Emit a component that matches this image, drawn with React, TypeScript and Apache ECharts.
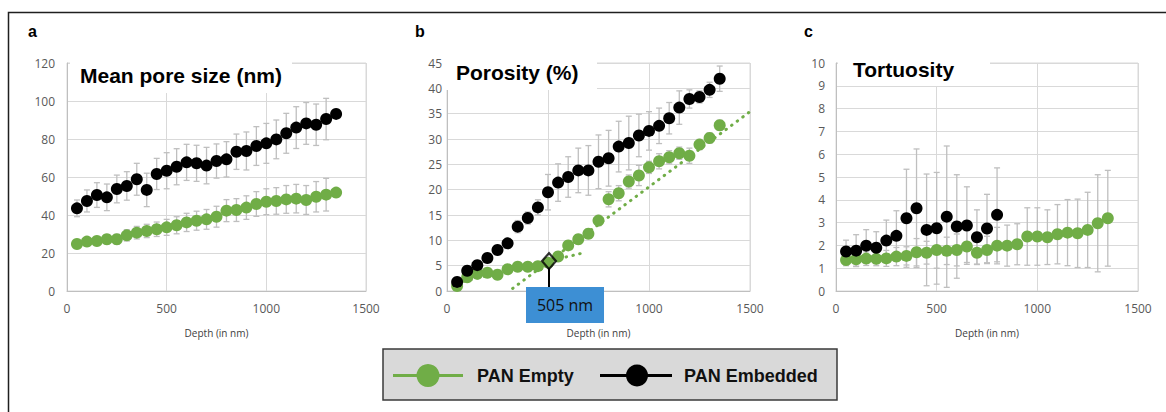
import React, { useEffect, useRef } from "react";
import * as echarts from "echarts";

const DEPTH = [50, 100, 150, 200, 250, 300, 350, 400, 450, 500, 550, 600, 650, 700, 750, 800, 850, 900, 950, 1000, 1050, 1100, 1150, 1200, 1250, 1300, 1350];

const A_EMPTY = [24.7, 26.0, 26.3, 27.2, 27.2, 29.3, 30.7, 31.6, 32.5, 33.5, 34.6, 36.1, 37.0, 37.7, 39.1, 42.3, 42.6, 43.9, 45.8, 47.0, 47.4, 48.2, 48.6, 47.9, 49.6, 50.7, 51.8];
const A_EMPTY_ERR = [1.8, 2, 2.2, 2.4, 2.6, 3, 3.3, 3.5, 3.8, 4.2, 4.5, 4.8, 5, 5.2, 5.5, 5.8, 6, 6.2, 6.5, 6.8, 7, 7.3, 7.5, 7.6, 8, 8.6, 0];
const A_EMB = [43.5, 47.4, 50.5, 49.3, 53.7, 55.3, 58.8, 53.2, 61.6, 63.3, 65.4, 67.7, 67.2, 66.0, 68.4, 69.3, 73.3, 73.7, 76.3, 77.7, 79.8, 83.0, 86.0, 88.2, 87.5, 90.5, 93.2];
const A_EMB_ERR = [4.4, 5.8, 6.5, 7, 7.3, 7.5, 8.4, 8.8, 8.2, 9.5, 9.5, 9.5, 9.5, 9.6, 9, 9.3, 9.3, 10, 10.2, 10.5, 10.2, 10.5, 11, 11, 10.9, 10.9, 0];

const B_EMPTY = [1.0, 2.7, 3.4, 3.6, 3.2, 4.3, 4.8, 4.8, 4.9, 5.6, 6.8, 9.0, 10.2, 11.3, 13.9, 18.1, 19.3, 21.6, 22.8, 24.4, 25.6, 26.4, 27.2, 26.7, 28.9, 30.2, 32.7];
const B_EMPTY_ERR = [0.3, 0.4, 0.5, 0.5, 0.5, 0.6, 0.6, 0.6, 0.7, 0.7, 0.8, 0.8, 0.9, 0.9, 1.0, 1.5, 1.5, 1.3, 2.0, 1.2, 1.5, 1.3, 1.2, 1.5, 1.0, 1.0, 1.0];
const B_EMB = [1.8, 4.0, 5.1, 6.5, 8.1, 9.4, 12.7, 14.4, 16.5, 19.5, 21.4, 22.5, 23.8, 23.8, 25.5, 26.2, 28.5, 29.2, 30.7, 31.6, 32.6, 34.1, 36.2, 37.9, 38.3, 39.7, 41.9];
const B_EMB_ERR = [0.5, 1.0, 0.8, 0.8, 0.8, 1.0, 1.2, 1.2, 1.5, 3.5, 3.7, 4.0, 4.4, 4.9, 5.3, 5.5, 5.0, 5.3, 4.2, 3.8, 3.5, 3.1, 3.3, 1.8, 1.2, 1.5, 2.5];

const C_EMPTY = [1.36, 1.39, 1.42, 1.41, 1.43, 1.51, 1.54, 1.70, 1.68, 1.80, 1.76, 1.80, 1.95, 1.68, 1.80, 1.99, 1.99, 2.05, 2.39, 2.39, 2.36, 2.49, 2.56, 2.53, 2.68, 2.97, 3.19];
const C_EMPTY_ERR = [0.25, 0.3, 0.3, 0.3, 0.35, 0.4, 0.4, 0.6, 0.5, 0.8, 0.6, 0.7, 0.7, 0.5, 0.6, 0.8, 0.9, 0.9, 1.26, 1.26, 1.2, 1.3, 1.45, 1.5, 1.65, 2.13, 2.1];
const C_EMB_DEPTH = [50, 100, 150, 200, 250, 300, 350, 400, 450, 500, 550, 600, 650, 700, 750, 800];
const C_EMB = [1.73, 1.77, 1.99, 1.90, 2.21, 2.42, 3.19, 3.63, 2.68, 2.75, 3.26, 2.83, 2.87, 2.36, 2.74, 3.34];
const C_EMB_ERR = [0.5, 0.7, 0.7, 0.7, 0.9, 1.1, 2.15, 2.6, 2.45, 2.45, 3.1, 2.27, 1.7, 1.2, 1.5, 2.06];

const TREND_EARLY = [[50, 1.6], [673, 7.5]];
const TREND_LATE = [[325, 0.5], [1500, 35.4]];
const ANNOT_X = 505;
const ANNOT_Y = 5.9;
const ANNOT_LABEL = "505 nm";

const PANEL_LETTERS = ["a", "b", "c"];
const PANEL_TITLES = ["Mean pore size (nm)", "Porosity (%)", "Tortuosity"];
const Y_MAX = [120, 45, 10];
const Y_STEP = [20, 5, 1];
const X_TITLE = "Depth (in nm)";
const LEGEND_NAMES = ["PAN Empty", "PAN Embedded"];
// tick hidden behind the annotation box in panel b
const HIDDEN_X_TICK_B = 500;

const GREEN = "#70ad47";
const BLACK = "#000000";
const ERR_COLOR = "#bfbfbf";
const GRID_COLOR = "#d9d9d9";
const LABEL_FONT = "Open Sans";
const BOLD_FONT = "Liberation Sans";

const pts = (xs: number[], ys: number[]) => xs.map((x, i) => [x, ys[i]]);
const errs = (xs: number[], ys: number[], es: number[]) => xs.map((x, i) => [x, ys[i] - es[i], ys[i] + es[i]]);

const renderErr = (_params: any, api: any) => {
  const x = api.value(0);
  const lo = api.value(1);
  const hi = api.value(2);
  const a = api.coord([x, hi]);
  const b = api.coord([x, lo]);
  const h = 3;
  const style = { stroke: ERR_COLOR, lineWidth: 1.3 };
  return {
    type: "group",
    children: [
      { type: "line", shape: { x1: a[0], y1: a[1], x2: b[0], y2: b[1] }, style },
      { type: "line", shape: { x1: a[0] - h, y1: a[1], x2: a[0] + h, y2: a[1] }, style },
      { type: "line", shape: { x1: b[0] - h, y1: b[1], x2: b[0] + h, y2: b[1] }, style },
    ],
  };
};

export default function App() {
  const ref = useRef<HTMLDivElement>(null);
  useEffect(() => {
    document.body.style.margin = "0";
    if (!ref.current) return;
    const chart = echarts.init(ref.current, undefined, { renderer: "svg" });

    const grids = [
      { left: 67, top: 63, width: 299, height: 228 },
      { left: 447, top: 63, width: 303, height: 228 },
      { left: 836, top: 63, width: 302, height: 228 },
    ];
    const yMargins = [12, 5, 11];

    const xAxis = grids.map((_, i) => ({
      type: "value",
      gridIndex: i,
      min: 0,
      max: 1500,
      interval: 500,
      name: X_TITLE,
      nameLocation: "middle",
      nameGap: 37,
      nameTextStyle: { fontSize: 10, color: "#404040", fontFamily: LABEL_FONT },
      axisLabel: {
        fontSize: 12,
        color: "#595959",
        margin: 11,
        fontFamily: LABEL_FONT,
        formatter: (v: number) => (i === 1 && v === HIDDEN_X_TICK_B ? "" : String(v)),
      },
      axisLine: { show: true, lineStyle: { color: ERR_COLOR, width: 1 } },
      axisTick: { show: false },
      splitLine: { show: true, lineStyle: { color: GRID_COLOR, width: 1 } },
    }));
    const yAxis = grids.map((_, i) => ({
      type: "value",
      gridIndex: i,
      min: 0,
      max: Y_MAX[i],
      interval: Y_STEP[i],
      axisLabel: { fontSize: 12, color: "#595959", margin: yMargins[i], fontFamily: LABEL_FONT, formatter: (v: number) => String(v) },
      axisLine: { show: true, lineStyle: { color: ERR_COLOR, width: 1 } },
      axisTick: { show: false },
      splitLine: { show: true, lineStyle: { color: GRID_COLOR, width: 1 } },
    }));

    const errSeries = (idx: number, xs: number[], ys: number[], es: number[]) => ({
      type: "custom",
      xAxisIndex: idx,
      yAxisIndex: idx,
      renderItem: renderErr,
      encode: { x: 0, y: [1, 2] },
      data: errs(xs, ys, es),
      z: 1,
      silent: true,
    });
    const scatter = (idx: number, name: string, xs: number[], ys: number[], color: string, z: number) => ({
      type: "scatter",
      name,
      xAxisIndex: idx,
      yAxisIndex: idx,
      symbol: "circle",
      symbolSize: 12,
      itemStyle: { color, opacity: 1 },
      data: pts(xs, ys),
      z,
    });
    const trend = (data: number[][]) => ({
      type: "line",
      xAxisIndex: 1,
      yAxisIndex: 1,
      data,
      symbol: "none",
      lineStyle: { color: GREEN, width: 3, type: [0.5, 6.5], cap: "round" },
      z: 2,
      silent: true,
    });

    const series: any[] = [
      errSeries(0, DEPTH, A_EMPTY, A_EMPTY_ERR),
      errSeries(0, DEPTH, A_EMB, A_EMB_ERR),
      scatter(0, LEGEND_NAMES[0], DEPTH, A_EMPTY, GREEN, 3),
      scatter(0, LEGEND_NAMES[1], DEPTH, A_EMB, BLACK, 4),
      errSeries(1, DEPTH, B_EMPTY, B_EMPTY_ERR),
      errSeries(1, DEPTH, B_EMB, B_EMB_ERR),
      trend(TREND_EARLY),
      trend(TREND_LATE),
      scatter(1, LEGEND_NAMES[0], DEPTH, B_EMPTY, GREEN, 3),
      scatter(1, LEGEND_NAMES[1], DEPTH, B_EMB, BLACK, 4),
      {
        type: "scatter",
        xAxisIndex: 1,
        yAxisIndex: 1,
        symbol: "diamond",
        symbolSize: [14, 16],
        itemStyle: { color: "rgba(0,0,0,0)", borderColor: "#000", borderWidth: 2.2 },
        data: [[ANNOT_X, ANNOT_Y]],
        z: 6,
      },
      errSeries(2, DEPTH, C_EMPTY, C_EMPTY_ERR),
      errSeries(2, C_EMB_DEPTH, C_EMB, C_EMB_ERR),
      scatter(2, LEGEND_NAMES[0], DEPTH, C_EMPTY, GREEN, 3),
      scatter(2, LEGEND_NAMES[1], C_EMB_DEPTH, C_EMB, BLACK, 4),
    ];

    chart.setOption({
      animation: false,
      backgroundColor: "#ffffff",
      grid: grids.map((g) => ({ ...g, show: true, borderColor: GRID_COLOR, borderWidth: 1, containLabel: false })),
      xAxis,
      yAxis,
      series,
    });

    const p = chart.convertToPixel({ gridIndex: 1 } as any, [ANNOT_X, ANNOT_Y]) as number[];
    const p0 = chart.convertToPixel({ gridIndex: 1 } as any, [ANNOT_X, 0]) as number[];
    const boxTop = p0[1] - 4;

    const titleBoxes = [
      { x: 70, y: 56, w: 222, h: 37, tx: 80, ty: 75 },
      { x: 445, y: 53, w: 152, h: 37, tx: 456, ty: 72 },
      { x: 838, y: 50, w: 152, h: 36, tx: 853, ty: 69 },
    ];
    const letterX = [28, 415, 804];

    const graphic: any[] = [
      {
        type: "rect",
        z: 100,
        shape: { x: 8.5, y: 12.5, width: 1200, height: 460 },
        style: { fill: "none", stroke: "#1f1f1f", lineWidth: 1.5 },
      },
    ];
    PANEL_LETTERS.forEach((l, i) => {
      graphic.push({
        type: "text",
        z: 100,
        x: letterX[i],
        y: 31,
        style: { text: l, fontSize: 16, fontWeight: "bold", fontFamily: BOLD_FONT, fill: "#000", verticalAlign: "middle" },
      });
    });
    titleBoxes.forEach((t, i) => {
      graphic.push({
        type: "rect",
        z: 90,
        shape: { x: t.x, y: t.y, width: t.w, height: t.h },
        style: { fill: "#ffffff" },
      });
      graphic.push({
        type: "text",
        z: 100,
        x: t.tx,
        y: t.ty,
        style: { text: PANEL_TITLES[i], fontSize: 21, fontWeight: "bold", fontFamily: BOLD_FONT, fill: "#000", verticalAlign: "middle" },
      });
    });
    // annotation
    graphic.push({
      type: "line",
      z: 95,
      shape: { x1: p[0], y1: p[1] + 7, x2: p[0], y2: boxTop },
      style: { stroke: "#000", lineWidth: 2 },
    });
    graphic.push({
      type: "rect",
      z: 96,
      shape: { x: p[0] - 23, y: boxTop, width: 78, height: 36 },
      style: { fill: "#3d8fd4" },
    });
    graphic.push({
      type: "text",
      z: 97,
      x: p[0] - 23 + 39,
      y: boxTop + 18,
      style: { text: ANNOT_LABEL, fontSize: 16, fontFamily: LABEL_FONT, fill: "#111", align: "center", verticalAlign: "middle" },
    });
    // legend
    const ly = 375.5;
    graphic.push({
      type: "rect",
      z: 100,
      shape: { x: 383, y: 349, width: 454, height: 51 },
      style: { fill: "#d9d9d9", stroke: "#3a3a3a", lineWidth: 1.5 },
    });
    const legendItems = [
      { color: GREEN, x1: 393, x2: 463, cx: 428, r: 11.5, tx: 477 },
      { color: BLACK, x1: 600, x2: 672, cx: 637, r: 11, tx: 684 },
    ];
    legendItems.forEach((it, i) => {
      graphic.push({
        type: "line",
        z: 101,
        shape: { x1: it.x1, y1: ly, x2: it.x2, y2: ly },
        style: { stroke: it.color, lineWidth: 3 },
      });
      graphic.push({
        type: "circle",
        z: 102,
        shape: { cx: it.cx, cy: ly, r: it.r },
        style: { fill: it.color },
      });
      graphic.push({
        type: "text",
        z: 102,
        x: it.tx,
        y: ly,
        style: { text: LEGEND_NAMES[i], fontSize: 18, fontWeight: "bold", fontFamily: BOLD_FONT, fill: "#111", verticalAlign: "middle" },
      });
    });

    chart.setOption({ graphic });

    return () => chart.dispose();
  }, []);
  return <div ref={ref} style={{ width: 1166, height: 412 }} />;
}
